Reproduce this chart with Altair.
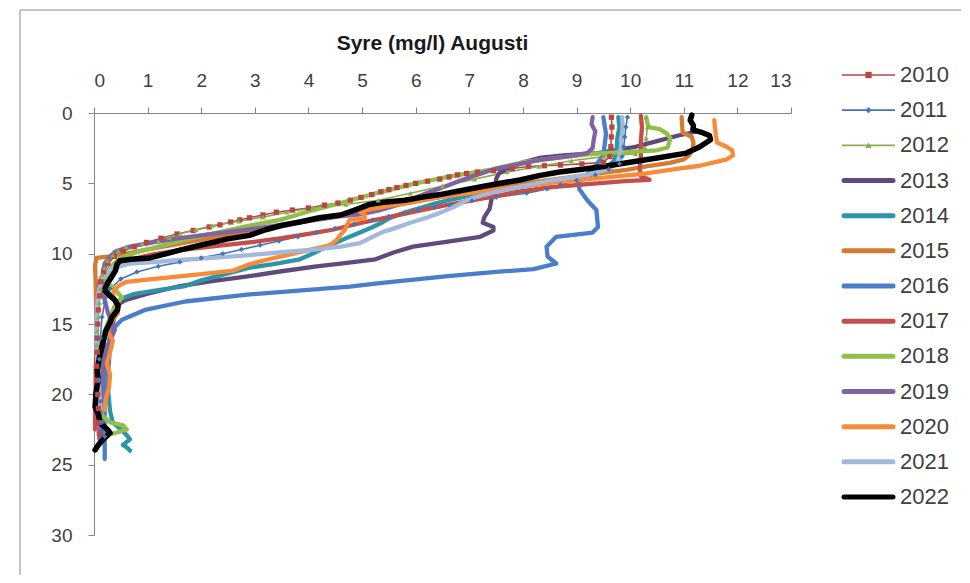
import altair as alt
import pandas as pd

years = ["2010", "2011", "2012", "2013", "2014", "2015", "2016",
         "2017", "2018", "2019", "2020", "2021", "2022"]
colors = ["#B84744", "#4575B4", "#8BAE4C", "#604A7B", "#2E95A8", "#D27B33",
          "#4A7EC8", "#C24F4C", "#92BE4A", "#8064A2", "#F88B3A", "#A2B9DC", "#000000"]
x_ticks = list(range(0, 14))
y_ticks = [0, 5, 10, 15, 20, 25, 30]

# ---- profiles: oxygen (mg/l) and depth (m) ----
o2_2010 = [9.65, 9.66, 9.65, 9.64, 9.62, 9.5, 9.1, 8.7, 8.4, 8.1, 7.8, 7.45, 7.15, 6.95, 6.78,
           6.62, 6.45, 6.22, 6.0, 5.82, 5.65, 5.5, 5.35, 5.18, 4.98, 4.78, 4.55, 4.3, 4.0, 3.7,
           3.4, 3.15, 2.9, 2.72, 2.55, 2.35, 2.15, 1.85, 1.55, 1.25, 0.98, 0.75, 0.55, 0.38, 0.26,
           0.18, 0.13, 0.1, 0.08, 0.07, 0.06, 0.06, 0.05, 0.06, 0.07, 0.08, 0.09, 0.1]
d_2010 = [0.3, 1.0, 1.7, 2.4, 3.1, 3.5, 3.62, 3.7, 3.75, 3.8, 3.95, 4.1, 4.2, 4.3, 4.4,
          4.55, 4.7, 4.85, 5.0, 5.15, 5.3, 5.45, 5.6, 5.8, 6.0, 6.2, 6.4, 6.55, 6.75, 6.9,
          7.05, 7.25, 7.45, 7.6, 7.75, 7.95, 8.1, 8.35, 8.6, 8.9, 9.2, 9.5, 9.8, 10.2, 10.7,
          11.3, 12, 13, 14, 15, 16, 17, 18, 19, 20, 21, 22, 22.8]

o2_2011 = [9.95, 9.92, 9.9, 9.88, 9.85, 9.8, 9.6, 9.35, 9.0, 8.7, 8.45, 8.07, 7.5, 7.05, 6.64,
           6.35, 6.05, 5.8, 5.5, 5.2, 4.85, 4.5, 4.15, 3.8, 3.45, 3.1, 2.75, 2.4, 2.0, 1.6,
           1.2, 0.8, 0.5, 0.3, 0.2, 0.15, 0.12, 0.1, 0.1, 0.12, 0.15, 0.2]
d_2011 = [0.3, 1, 1.7, 2.4, 3.1, 3.6, 4.0, 4.4, 4.8, 5.1, 5.4, 5.7, 6.0, 6.25, 6.5,
          6.7, 6.9, 7.1, 7.35, 7.6, 7.9, 8.2, 8.5, 8.8, 9.1, 9.4, 9.7, 10.0, 10.3, 10.6,
          10.9, 11.3, 11.8, 12.5, 13.5, 14.5, 16, 17.5, 19, 20.5, 22, 23]

o2_2012 = [10.3, 10.32, 10.3, 10.28, 10.1, 9.5, 8.9, 8.3, 7.7, 7.1, 6.5, 5.9, 5.3, 4.7, 4.08,
           3.6, 3.15, 2.7, 2.2, 1.9, 1.6, 1.4, 1.2, 0.9, 0.6, 0.45, 0.35, 0.25, 0.2, 0.15,
           0.12, 0.1, 0.08, 0.06, 0.05]
d_2012 = [0.3, 1.0, 1.8, 2.5, 2.9, 3.1, 3.4, 3.8, 4.2, 4.7, 5.2, 5.7, 6.2, 6.5, 6.75,
          7.05, 7.4, 7.7, 8.0, 8.3, 8.6, 8.85, 9.1, 9.3, 9.5, 9.8, 10.1, 10.5, 11, 11.5,
          12.5, 13.5, 14.5, 15.5, 16.5]

o2_2013 = [11.2, 10.9, 10.5, 10.1, 9.4, 8.8, 8.3, 8.0, 7.75, 7.55, 7.5, 7.5, 7.42, 7.38, 7.28,
           7.25, 7.45, 7.45, 7.2, 6.6, 5.95, 5.6, 5.25, 4.6, 4.15, 3.5, 2.9, 2.2, 1.6, 1.0,
           0.58, 0.45, 0.4, 0.35, 0.3, 0.28, 0.25, 0.2, 0.17, 0.15]
d_2013 = [1.35, 1.6, 2.0, 2.4, 2.85, 3.0, 3.2, 3.5, 3.9, 4.3, 4.7, 5.3, 6.0, 6.8, 7.4,
          7.8, 8.1, 8.35, 8.8, 9.15, 9.5, 9.9, 10.4, 10.7, 10.9, 11.25, 11.6, 11.95, 12.3, 12.85,
          13.3, 13.6, 14.2, 15, 16, 17.5, 19, 20.5, 22, 23]

o2_2014 = [9.78, 9.8, 9.76, 9.75, 9.7, 9.55, 9.3, 9.06, 8.6, 8.2, 7.8, 7.38, 7.0, 6.6, 6.3,
           6.13, 5.9, 5.7, 5.5, 5.39, 5.2, 4.96, 4.7, 4.34, 4.1, 3.84, 3.4, 2.9, 2.5, 2.0,
           1.7, 1.2, 0.76, 0.5, 0.38, 0.32, 0.3, 0.27, 0.25, 0.27, 0.3, 0.35, 0.5, 0.61, 0.67,
           0.54, 0.62, 0.67]
d_2014 = [0.3, 1.0, 1.8, 2.6, 3.4, 3.9, 4.3, 4.55, 4.85, 5.1, 5.35, 5.6, 5.9, 6.2, 6.5,
          6.7, 6.95, 7.2, 7.5, 7.75, 8.1, 8.5, 8.9, 9.5, 9.95, 10.4, 10.7, 11.0, 11.4, 11.9,
          12.3, 12.6, 12.85, 13.2, 13.8, 14.5, 15.5, 17, 18.5, 20, 21.2, 22.0, 22.5, 22.9, 23.2,
          23.6, 23.8, 24.0]

o2_2015 = [10.96, 10.97, 10.98, 11.15, 11.18, 11.17, 11.1, 11.0, 10.74, 10.3, 9.93, 9.4, 9.0, 8.5, 8.0,
           7.5, 7.0, 6.5, 6.0, 5.5, 5.0, 4.5, 4.0, 3.5, 3.0, 2.5, 2.0, 1.5, 1.0, 0.6,
           0.3, 0.05, 0.02, 0.03, 0.04, 0.05, 0.05, 0.06, 0.06]
d_2015 = [0.3, 0.9, 1.4, 1.7, 2.1, 2.5, 3.0, 3.3, 3.55, 3.8, 4.05, 4.3, 4.5, 4.75, 5.0,
          5.3, 5.6, 5.95, 6.3, 6.65, 7.0, 7.3, 7.6, 7.95, 8.3, 8.65, 9.0, 9.35, 9.7, 10.0,
          10.2, 10.3, 10.8, 12, 14, 16, 18, 20, 21.5]

o2_2016 = [9.5, 9.55, 9.5, 9.3, 9.05, 9.05, 9.2, 9.37, 9.4, 9.3, 8.62, 8.44, 8.46, 8.62, 8.2,
           7.5, 6.6, 5.33, 4.77, 2.9, 1.7, 0.95, 0.52, 0.34, 0.25, 0.2, 0.2, 0.2]
d_2016 = [0.3, 1.5, 3.0, 4.0, 4.9, 5.4, 6.2, 6.9, 8.1, 8.5, 8.8, 9.5, 10.2, 10.7, 11.1,
          11.3, 11.6, 12.1, 12.35, 12.9, 13.4, 14.0, 14.7, 15.4, 17, 20, 23, 24.6]

o2_2017 = [10.2, 10.22, 10.2, 10.2, 10.18, 10.2, 10.36, 9.9, 9.2, 8.44, 7.9, 7.5, 7.0, 6.5, 6.0,
           5.5, 5.0, 4.45, 4.0, 3.5, 2.9, 2.3, 1.6, 1.1, 0.7, 0.4, 0.2, 0.1, 0.08, 0.06,
           0.05, 0.04, 0.03, 0.03, 0.02, 0.02]
d_2017 = [0.2, 1.0, 2.0, 3.0, 4.0, 4.5, 4.75, 4.85, 5.05, 5.3, 5.6, 5.9, 6.25, 6.6, 7.0,
          7.4, 7.8, 8.3, 8.6, 8.9, 9.2, 9.45, 9.75, 10.05, 10.4, 10.8, 11.3, 12, 13, 14,
          15.5, 17, 18.5, 20, 21.5, 22.5]

o2_2018 = [10.3, 10.32, 10.35, 10.55, 10.68, 10.75, 10.72, 10.7, 10.5, 10.1, 9.5, 9.3, 8.6, 8.0, 7.38,
           6.64, 6.0, 5.27, 4.6, 4.0, 3.47, 2.9, 2.3, 1.7, 1.2, 0.8, 0.5, 0.35, 0.3, 0.2,
           0.35, 0.52, 0.4, 0.3, 0.2, 0.12, 0.08, 0.06, 0.08, 0.15, 0.3, 0.54, 0.61, 0.35]
d_2018 = [0.3, 0.7, 1.0, 1.15, 1.45, 1.8, 2.2, 2.45, 2.65, 2.75, 2.85, 2.9, 3.2, 3.5, 4.05,
          4.5, 5.0, 5.7, 6.4, 7.0, 7.6, 8.0, 8.5, 9.0, 9.5, 9.9, 10.3, 10.8, 11.2, 11.9,
          12.4, 13.1, 13.7, 14.5, 15.5, 17, 18.5, 19.5, 20.5, 21.5, 22.0, 22.2, 22.5, 22.8]

o2_2019 = [9.3, 9.28, 9.35, 9.32, 9.3, 9.2, 8.8, 8.3, 7.9, 7.5, 7.1, 6.8, 6.5, 6.2, 5.9,
           5.6, 5.3, 4.96, 4.58, 4.15, 3.5, 2.85, 2.2, 1.6, 1.1, 0.67, 0.4, 0.3, 0.2, 0.17,
           0.15, 0.18, 0.26, 0.39, 0.3, 0.2, 0.17, 0.14, 0.12, 0.1, 0.1]
d_2019 = [0.3, 0.8, 1.3, 1.9, 2.5, 2.85, 3.1, 3.35, 3.65, 3.95, 4.45, 4.85, 5.3, 5.7, 6.15,
          6.6, 6.95, 7.2, 7.35, 7.6, 7.95, 8.3, 8.6, 8.9, 9.2, 9.5, 9.85, 10.2, 10.7, 11.2,
          12, 13, 14.2, 15.4, 16.2, 16.8, 18, 19.5, 21, 22.3, 23.2]

o2_2020 = [11.57, 11.58, 11.6, 11.62, 11.8, 11.9, 11.92, 11.8, 11.3, 10.8, 10.3, 9.5, 8.68, 7.8, 7.0,
           6.5, 6.08, 5.5, 4.96, 5.05, 5.05, 4.77, 4.72, 4.68, 4.6, 4.53, 4.4, 4.0, 3.6, 3.2,
           2.9, 2.6, 2.0, 1.5, 1.0, 0.6, 0.45, 0.35, 0.4, 0.45, 0.3, 0.26, 0.35, 0.3, 0.24,
           0.3, 0.28, 0.22, 0.2]
d_2020 = [0.5, 1.0, 1.6, 2.1, 2.4, 2.65, 3.0, 3.3, 3.75, 4.0, 4.3, 4.6, 4.9, 5.3, 5.7,
          5.95, 6.2, 6.6, 7.0, 7.25, 7.5, 7.6, 7.95, 8.3, 8.65, 9.0, 9.4, 9.75, 10.1, 10.45,
          10.75, 11.2, 11.45, 11.65, 11.85, 12.0, 12.3, 12.8, 13.5, 14.2, 15.0, 15.5, 16.2, 17, 17.8,
          18.6, 19.5, 20.3, 21.1]

o2_2021 = [9.85, 9.86, 9.84, 9.82, 9.8, 9.6, 9.2, 8.5, 8.0, 7.5, 7.1, 6.9, 6.7, 6.45, 6.2,
           5.9, 5.6, 5.39, 5.2, 4.96, 4.6, 4.15, 3.5, 2.9, 2.2, 1.6, 1.1, 0.67, 0.3, 0.15,
           0.08, 0.05, 0.04, 0.05, 0.08, 0.1, 0.12]
d_2021 = [0.3, 1.0, 1.8, 2.6, 3.4, 4.0, 4.4, 4.8, 5.2, 5.6, 6.0, 6.3, 6.7, 7.1, 7.45,
          7.8, 8.2, 8.45, 8.8, 9.25, 9.5, 9.7, 9.9, 10.1, 10.3, 10.45, 10.6, 10.7, 11.1, 11.8,
          12.8, 14, 15.5, 17, 18.5, 20, 21]

o2_2022 = [11.15, 11.12, 11.18, 11.17, 11.35, 11.48, 11.5, 11.3, 11.05, 10.5, 10.0, 9.5, 9.0, 8.68, 8.3,
           7.94, 7.5, 7.0, 6.45, 6.1, 5.8, 5.4, 5.14, 4.9, 4.6, 4.2, 3.84, 3.5, 3.2, 2.9,
           2.5, 1.98, 1.6, 1.3, 1.04, 0.7, 0.48, 0.43, 0.4, 0.33, 0.25, 0.2, 0.3, 0.39, 0.45,
           0.44, 0.34, 0.3, 0.22, 0.15, 0.1, 0.06, 0.08, 0.04, 0.02, 0.08, 0.11, 0.25, 0.3, 0.17,
           0.08, 0.02]
d_2022 = [0.15, 0.5, 0.9, 1.2, 1.4, 1.6, 1.9, 2.4, 2.85, 3.2, 3.5, 3.8, 4.05, 4.2, 4.45,
          4.76, 5.05, 5.4, 5.8, 6.0, 6.2, 6.35, 6.5, 6.85, 7.25, 7.45, 7.75, 8.0, 8.3, 8.7,
          8.95, 9.4, 9.75, 10.05, 10.3, 10.4, 10.5, 10.75, 11.2, 11.65, 12.1, 12.6, 13.0, 13.3, 13.7,
          14.0, 14.5, 14.9, 15.5, 16.6, 17.4, 18.3, 19.0, 19.8, 20.9, 21.4, 22.0, 22.5, 22.75, 23.2,
          23.6, 23.95]

profiles = {
    "2010": (o2_2010, d_2010), "2011": (o2_2011, d_2011), "2012": (o2_2012, d_2012),
    "2013": (o2_2013, d_2013), "2014": (o2_2014, d_2014), "2015": (o2_2015, d_2015),
    "2016": (o2_2016, d_2016), "2017": (o2_2017, d_2017), "2018": (o2_2018, d_2018),
    "2019": (o2_2019, d_2019), "2020": (o2_2020, d_2020), "2021": (o2_2021, d_2021),
    "2022": (o2_2022, d_2022),
}

rows = []
for yr in years:
    o, d = profiles[yr]
    for i, (a, b) in enumerate(zip(o, d)):
        rows.append({"year": yr, "o2": a, "depth": b, "i": i})
df = pd.DataFrame(rows)
leg_df = pd.DataFrame({"year": years})

FONT = "Liberation Sans"
thin_years = ["2010", "2011", "2012"]
thick_years = years[3:12]

color = alt.Color("year:N", scale=alt.Scale(domain=years, range=colors), legend=None)
xenc = alt.X("o2:Q",
             scale=alt.Scale(domain=[0, 13], nice=False, zero=False),
             axis=alt.Axis(orient="top", values=x_ticks, title="Syre (mg/l) Augusti",
                           grid=False, format="d", titleX=338))
yenc = alt.Y("depth:Q",
             scale=alt.Scale(domain=[0, 30], nice=False, reverse=True),
             axis=alt.Axis(values=y_ticks, title=None, grid=False, format="d"))

base = alt.Chart(df)
lines_thin = base.transform_filter(alt.FieldOneOfPredicate(field="year", oneOf=thin_years)).mark_line(
    strokeWidth=1.6, strokeJoin="round", strokeCap="round").encode(x=xenc, y=yenc, color=color, order="i:Q")
lines_thick = base.transform_filter(alt.FieldOneOfPredicate(field="year", oneOf=thick_years)).mark_line(
    strokeWidth=4.3, strokeJoin="round", strokeCap="round").encode(x=xenc, y=yenc, color=color, order="i:Q")
lines_black = base.transform_filter(alt.FieldEqualPredicate(field="year", equal="2022")).mark_line(
    strokeWidth=5.5, strokeJoin="round", strokeCap="round").encode(x=xenc, y=yenc, color=color, order="i:Q")
shape = alt.Shape("year:N", scale=alt.Scale(domain=thin_years, range=["square", "diamond", "triangle-up"]),
                  legend=None)
markers = base.transform_filter(alt.FieldOneOfPredicate(field="year", oneOf=thin_years)).mark_point(
    filled=True, size=28, opacity=1).encode(x=xenc, y=yenc, color=color, shape=shape)

main = alt.layer(lines_thin, lines_thick, lines_black, markers)

# ---- legend built from the year list ----
ly = alt.Y("year:N", scale=alt.Scale(type="point", domain=years, range=[-38, 384], padding=0), axis=None)
lbase = alt.Chart(leg_df)
leg_thin = lbase.transform_filter(alt.FieldOneOfPredicate(field="year", oneOf=thin_years)).mark_rule(
    strokeWidth=1.6).encode(x=alt.value(748), x2=alt.value(801), y=ly, color=color)
leg_thick = lbase.transform_filter(alt.FieldOneOfPredicate(field="year", oneOf=years[3:])).mark_rule(
    strokeWidth=5, strokeCap="round").encode(x=alt.value(750), x2=alt.value(799), y=ly, color=color)
leg_pts = lbase.transform_filter(alt.FieldOneOfPredicate(field="year", oneOf=thin_years)).mark_point(
    filled=True, size=40, opacity=1).encode(x=alt.value(774.5), y=ly, color=color, shape=shape)
leg_txt = lbase.mark_text(align="left", baseline="middle", font=FONT, fontSize=22, color="#404040").encode(
    x=alt.value(806), y=ly, text="year:N")
legend = alt.layer(leg_thin, leg_thick, leg_pts, leg_txt)

frame = alt.Chart(pd.DataFrame({"k": [0]})).mark_rect(
    fillOpacity=0, stroke="#8c8c8c", strokeWidth=1).encode(
    x=alt.value(-74), x2=alt.value(900), y=alt.value(-103), y2=alt.value(500))

chart = alt.layer(frame, main, legend).resolve_scale(y="independent").properties(
    width=697, height=422,
    padding={"left": 86, "top": 105, "right": 170, "bottom": 40},
    autosize=alt.AutoSizeParams(type="none"),
).configure_view(stroke=None).configure_axis(
    domainColor="#868686", tickColor="#868686", tickSize=6, domainWidth=1, tickWidth=1,
    labelFont=FONT, labelFontSize=19, labelColor="#404040",
    titleFont=FONT, titleFontSize=21, titleFontWeight="bold", titleColor="#1a1a1a",
).configure_axisTop(labelPadding=17, titlePadding=18).configure_axisLeft(labelPadding=16)

chart.save("out.html", embed_options={"renderer": "svg", "actions": False})
